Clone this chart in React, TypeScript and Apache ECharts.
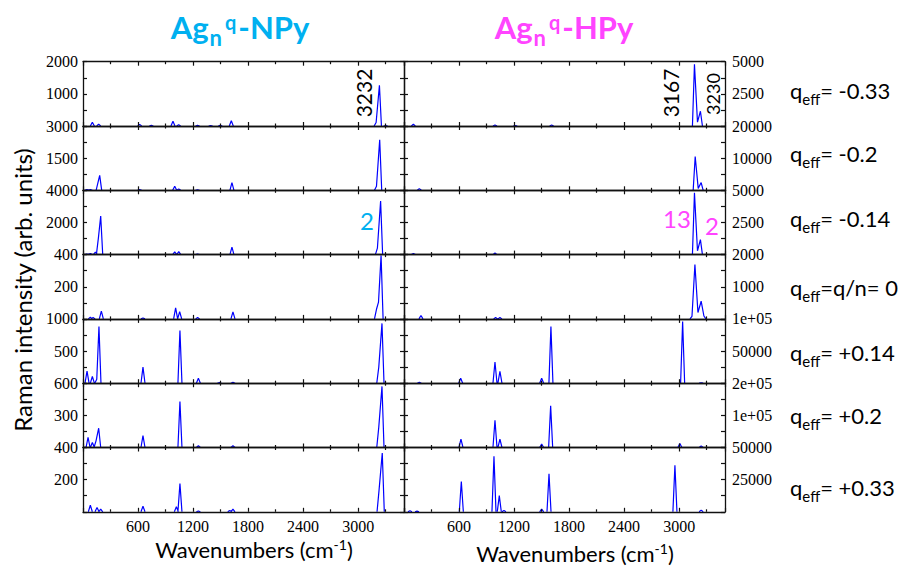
import React, { useEffect, useRef } from 'react';
import * as echarts from 'echarts';

// ---- axes ----
const X_MIN = 0;
const X_MAX = 3500;
const X_INTERVAL = 600;
const NPY_MAX = [2000, 3000, 4000, 400, 1000, 600, 400];
const HPY_MAX = [5000, 20000, 5000, 2000, 100000, 200000, 50000];
const CHARGE_TEXT = ['= -0.33', '= -0.2', '= -0.14', '=q/n= 0', '= +0.14', '= +0.2', '= +0.33'];
const CHARGE_Y = [90, 153, 218, 287, 352, 415, 487];

// ---- spectra: groups of [wavenumber, intensity] ----
const NPY_1 = [[[102, 115]], [[171, 60]], [[618, 50]], [[745, 20]], [[981, 150]], [[1043, 40]], [[1249, 20]], [[1392, 10]], [[1497, 20]], [[1617, 165]], [[3196, 110], [3232, 1265]], [[3300, 15]]];
const NPY_2 = [[[44, 40]], [[80, 30]], [[165, 390], [182, 700]], [[618, 30]], [[1000, 190]], [[1044, 60]], [[1249, 20]], [[1624, 360]], [[3200, 190], [3235, 2360]]];
const NPY_3 = [[[44, 40]], [[80, 70]], [[135, 160]], [[168, 1040], [193, 2400]], [[1000, 170]], [[1044, 190]], [[1249, 40]], [[1624, 460]], [[3210, 400], [3245, 3330]]];
const NPY_4 = [[[80, 10]], [[110, 8]], [[200, 48]], [[654, 6]], [[1010, 68]], [[1054, 45]], [[1250, 8]], [[1635, 44]], [[3200, 60], [3222, 104], [3250, 395]]];
const NPY_5 = [[[44, 187]], [[102, 104]], [[150, 60], [174, 880]], [[654, 250]], [[1057, 820]], [[1258, 78]], [[1487, 10]], [[1635, 15]], [[3225, 250], [3260, 930]]];
const NPY_6 = [[[55, 94]], [[102, 47]], [[142, 62], [171, 180]], [[654, 110]], [[1057, 430]], [[1258, 16]], [[1635, 16]], [[3225, 190], [3260, 570]]];
const NPY_7 = [[[80, 41]], [[153, 27]], [[193, 16]], [[654, 35]], [[1018, 31]], [[1057, 176]], [[1258, 5]], [[1600, 8]], [[1635, 16]], [[3228, 135], [3263, 366]]];

const HPY_1 = [[[102, 130]], [[992, 80]], [[1213, 40]], [[1610, 80]], [[3167, 4800], [3200, 300], [3232, 1150]]];
const HPY_2 = [[[167, 520]], [[3175, 10500], [3208, 600], [3240, 2400]]];
const HPY_3 = [[[102, 80]], [[992, 130]], [[3167, 4800], [3200, 300], [3232, 1170]]];
const HPY_4 = [[[185, 104]], [[999, 40]], [[1046, 40]], [[3140, 80], [3172, 1690], [3205, 200], [3240, 550], [3270, 90]]];
const HPY_5 = [[[167, 1500]], [[618, 7800]], [[992, 33000]], [[1046, 18600]], [[1501, 7800]], [[1602, 88000]], [[3038, 96000]], [[3240, 500]]];
const HPY_6 = [[[621, 26000]], [[992, 85000]], [[1046, 26000]], [[1501, 10400]], [[1599, 130000]], [[3008, 12500]], [[3240, 5000]]];
const HPY_7 = [[[65, 800]], [[142, 500]], [[625, 23600]], [[981, 43200]], [[1039, 12600]], [[1090, 1000]], [[1501, 2100]], [[1581, 29600]], [[2954, 36200]], [[3240, 1300]]];

const NPY_SPECTRA = [NPY_1, NPY_2, NPY_3, NPY_4, NPY_5, NPY_6, NPY_7];
const HPY_SPECTRA = [HPY_1, HPY_2, HPY_3, HPY_4, HPY_5, HPY_6, HPY_7];

// ---- style ----
const HALF_BASE = 22;
const PANEL_TOP = 61.7;
const PANEL_H = 64.3;
const COL_LEFT = [83, 404];
const COL_W = 321;
const CYAN = '#00b0f0';
const MAGENTA = '#ff44ff';
const SANS = 'Lato';
const SERIF = 'Liberation Serif';

function toLine(groups: number[][][]) {
  const out: any[] = [];
  groups.forEach((g, i) => {
    if (i > 0) out.push(['-', '-']);
    out.push([g[0][0] - HALF_BASE, 0]);
    g.forEach((p) => out.push([p[0], p[1]]));
    out.push([g[g.length - 1][0] + HALF_BASE, 0]);
  });
  return out;
}

function fmtY(v: number) {
  if (v >= 100000) return `${v / 100000}e+05`;
  return String(v);
}

function fmtX(v: number) {
  return String(v);
}

const AXIS_LINE = { show: true, onZero: false, lineStyle: { color: '#111', width: 1.3 } };

function xAxis(gi: number, pos: string, showLabel: boolean) {
  return {
    type: 'value', gridIndex: gi, position: pos, min: X_MIN, max: X_MAX, interval: X_INTERVAL, z: 5,
    axisLine: AXIS_LINE,
    axisTick: { show: true, inside: true, length: 4, lineStyle: { color: '#111', width: 1.2 } },
    minorTick: { show: true, splitNumber: 2, length: 2.5, lineStyle: { color: '#111', width: 1.2 } },
    splitLine: { show: false },
    axisLabel: {
      show: showLabel, showMinLabel: false, showMaxLabel: false, margin: 7,
      fontFamily: SERIF, fontSize: 16, color: '#000', formatter: fmtX,
    },
  };
}

function yAxis(gi: number, pos: string, max: number, showLabel: boolean) {
  return {
    type: 'value', gridIndex: gi, position: pos, min: 0, max, interval: max / 2, z: 5,
    axisLine: AXIS_LINE,
    axisTick: { show: true, inside: true, length: 4, lineStyle: { color: '#111', width: 1.2 } },
    minorTick: { show: true, splitNumber: 2, length: 4, lineStyle: { color: '#111', width: 1.2 } },
    splitLine: { show: false },
    axisLabel: {
      show: showLabel, showMinLabel: false, margin: pos === 'left' ? 5 : 7,
      fontFamily: SERIF, fontSize: 16, color: '#000', formatter: fmtY,
    },
  };
}

function titleRich(color: string) {
  return {
    a: { fontSize: 31, fontWeight: 'bold', fontFamily: SANS, fill: color },
    n: { fontSize: 22, fontWeight: 'bold', fontFamily: SANS, fill: color, padding: [20, 1, 0, 1] },
    q: { fontSize: 20, fontWeight: 'bold', fontFamily: SANS, fill: color, padding: [0, 2, 10, 2] },
  };
}

const Q_RICH = {
  q: { fontSize: 22, fontFamily: SANS, fill: '#000' },
  e: { fontSize: 15, fontFamily: SANS, fill: '#000', padding: [18, 0, 0, 0] },
};

const XNAME_RICH = {
  a: { fontSize: 22, fontFamily: SANS, fill: '#000' },
  s: { fontSize: 14, fontFamily: SANS, fill: '#000', padding: [0, 0, 10, 0] },
};

export default function App() {
  const ref = useRef<HTMLDivElement>(null);
  useEffect(() => {
    document.body.style.margin = '0';
    const chart = echarts.init(ref.current!, null, { renderer: 'svg' });
    const grid: any[] = [];
    const xAxes: any[] = [];
    const yAxes: any[] = [];
    const series: any[] = [];
    for (let col = 0; col < 2; col++) {
      for (let row = 0; row < 7; row++) {
        const gi = col * 7 + row;
        grid.push({ left: COL_LEFT[col], top: PANEL_TOP + row * PANEL_H, width: COL_W, height: PANEL_H });
        xAxes.push(xAxis(gi, 'bottom', row === 6));
        xAxes.push(xAxis(gi, 'top', false));
        const max = col === 0 ? NPY_MAX[row] : HPY_MAX[row];
        yAxes.push(yAxis(gi, 'left', max, col === 0));
        yAxes.push(yAxis(gi, 'right', max, col === 1));
        const spec = col === 0 ? NPY_SPECTRA[row] : HPY_SPECTRA[row];
        series.push({
          type: 'line', xAxisIndex: 2 * gi, yAxisIndex: 2 * gi, data: toLine(spec),
          showSymbol: false, symbol: 'none', connectNulls: false, silent: true, z: 2,
          lineStyle: { color: '#0000ff', width: 1.2 },
        });
      }
    }

    const graphic: any[] = [
      { type: 'text', x: 240, y: 27, style: { text: '{a|Ag}{n|n}{q|q}{a|-NPy}', rich: titleRich(CYAN), align: 'center', verticalAlign: 'middle' } },
      { type: 'text', x: 564, y: 27, style: { text: '{a|Ag}{n|n}{q|q}{a|-HPy}', rich: titleRich(MAGENTA), align: 'center', verticalAlign: 'middle' } },
      { type: 'text', x: 22, y: 290, rotation: Math.PI / 2, style: { text: 'Raman intensity (arb. units)', font: `24px ${SANS}`, fill: '#000', align: 'center', verticalAlign: 'middle' } },
      { type: 'text', x: 254, y: 549, style: { text: '{a|Wavenumbers (cm}{s|-1}{a|)}', rich: XNAME_RICH, align: 'center', verticalAlign: 'middle' } },
      { type: 'text', x: 575, y: 553, style: { text: '{a|Wavenumbers (cm}{s|-1}{a|)}', rich: XNAME_RICH, align: 'center', verticalAlign: 'middle' } },
      { type: 'text', x: 363, y: 93, rotation: Math.PI / 2, style: { text: '3232', font: `21px ${SANS}`, fill: '#000', align: 'center', verticalAlign: 'middle' } },
      { type: 'text', x: 670, y: 93, rotation: Math.PI / 2, style: { text: '3167', font: `21px ${SANS}`, fill: '#000', align: 'center', verticalAlign: 'middle' } },
      { type: 'text', x: 713, y: 94, rotation: Math.PI / 2, style: { text: '3230', font: `18px ${SANS}`, fill: '#000', align: 'center', verticalAlign: 'middle' } },
      { type: 'text', x: 367, y: 220, style: { text: '2', font: `24px ${SANS}`, fill: CYAN, align: 'center', verticalAlign: 'middle' } },
      { type: 'text', x: 677, y: 218, style: { text: '13', font: `24px ${SANS}`, fill: MAGENTA, align: 'center', verticalAlign: 'middle' } },
      { type: 'text', x: 712, y: 225, style: { text: '2', font: `24px ${SANS}`, fill: MAGENTA, align: 'center', verticalAlign: 'middle' } },
    ];
    CHARGE_TEXT.forEach((t, i) => {
      graphic.push({ type: 'text', x: 790, y: CHARGE_Y[i], style: { text: `{q|q}{e|eff}{q|${t}}`, rich: Q_RICH, align: 'left', verticalAlign: 'middle' } });
    });

    chart.setOption({
      animation: false,
      backgroundColor: '#fff',
      grid, xAxis: xAxes, yAxis: yAxes, series, graphic,
    });
    return () => chart.dispose();
  }, []);
  return <div ref={ref} style={{ position: 'absolute', left: 0, top: 0, width: 918, height: 567 }} />;
}
